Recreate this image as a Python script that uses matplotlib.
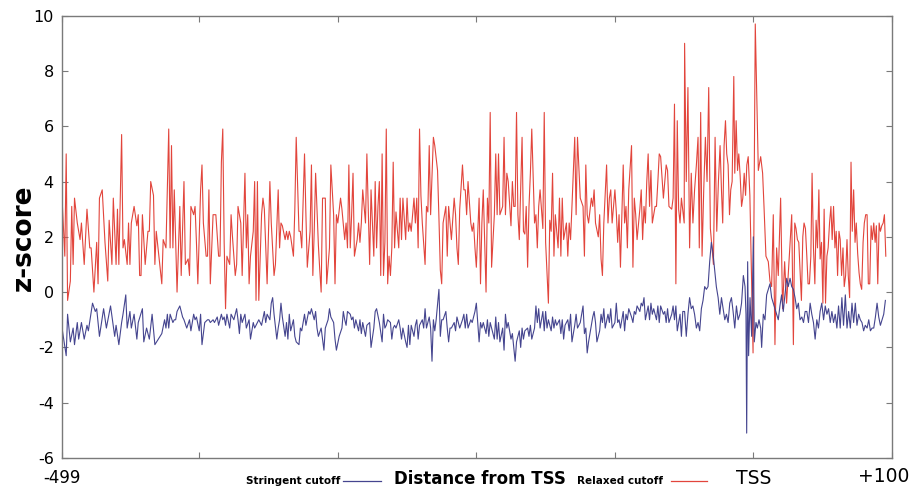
import matplotlib
matplotlib.use("Agg")
import matplotlib.pyplot as plt
from matplotlib.lines import Line2D

plt.rcParams["axes.unicode_minus"] = False

# Relaxed cutoff (red)
relaxed_x = [
    -499, -497, -496, -495, -493, -492, -491, -490, -488, -486, -485, -483, -481, -479, -478, -476, -474, -473, -472, -470,
    -468, -466, -465, -463, -462, -460, -459, -458, -456, -455, -454, -452, -451, -450, -449, -447, -445, -444, -443, -442,
    -441, -440, -439, -437, -436, -435, -433, -432, -431,
    -427, -426, -424, -422, -421, -420, -419, -418, -416, -414, -413, -411, -410, -408, -407, -406, -404, -403, -402, -401,
    -399, -398, -397, -395, -394, -393, -392, -391, -390, -388, -386, -385, -384, -383, -382, -381, -380, -378, -377, -376,
    -374, -373, -372, -370, -369, -367, -366, -365, -364, -363, -361, -360, -359, -358, -357, -355,
    -354, -353, -351, -349, -348, -346, -345, -343, -342, -341, -340, -338, -337, -336, -335, -334, -332, -331, -330, -328,
    -327, -326, -324, -323, -322, -320, -319, -318, -317, -316, -314, -313, -312, -311, -309, -308, -306, -305, -303, -302,
    -301, -300, -298, -297, -295, -294, -293, -292, -291, -290, -289, -288, -286, -285, -284, -283, -282, -280, -279,
    -278, -277, -276, -274, -273, -272, -271, -270, -269, -268, -267, -266, -265, -264, -263, -262, -261, -260, -259, -258,
    -256, -255, -254, -253, -251, -250, -249, -248, -247, -245, -244, -243, -242, -241, -240, -239, -237, -236, -235, -234,
    -233, -231, -230, -228, -227, -226, -225, -224, -222, -221, -220, -219, -218, -216, -215, -214, -213, -212, -210, -209,
    -208, -207, -206, -204, -203,
    -202, -201, -200, -198, -197, -196, -195, -193, -192, -191, -190, -189, -187, -186, -185, -184, -183, -181, -180, -179,
    -178, -177, -175, -174, -173, -172, -171, -170, -169, -167, -166, -165, -164, -163, -162, -161, -160, -158, -157, -156,
    -155, -154, -152, -151, -150, -148, -147, -146, -145, -144, -143, -141, -140, -139, -138, -137, -135, -134, -133, -132,
    -131, -129, -128, -127,
    -125, -123, -122, -121, -120, -119, -117, -116, -115, -114, -112, -111, -110, -109, -108, -106, -105, -104, -103, -102,
    -100, -99, -98, -97, -96, -94, -93, -92, -91, -90, -88, -87, -86, -85, -84, -82, -81, -80, -79, -78,
    -77, -76, -75, -74, -73, -71, -70, -69, -68, -67, -65, -64, -63, -62, -61, -59, -58, -57, -56, -55,
    -54, -53, -52, -50,
    -49.7, -48.5, -47.3, -46.1, -44.9, -43.7, -42.5, -41.2, -40.0, -39.1, -38.1, -37.1, -35.9, -34.7, -33.5, -32.3, -31.1, -29.9, -28.9, -27.7,
    -26.5, -25.3, -24.1, -23.1, -22.2, -21.2, -20.2, -19.3, -18.3, -17.3, -16.4, -15.4, -14.2, -13.5, -12.5, -11.5, -10.6, -9.6, -8.6, -7.7,
    -6.7, -5.7, -4.8, -3.8, -2.6, -1.5, -0.3, 1.3, 3.5, 5.2, 6.6, 7.6, 9.0, 10.7, 11.9, 13.1, 14.3, 15.5, 16.7, 17.9,
    19.6, 21.0, 22.5, 23.9,
    26.4, 27.6, 28.8, 29.8, 30.7, 31.7, 32.7, 33.6, 34.6, 35.6, 36.5, 37.5, 38.5, 39.4, 40.4, 41.4, 42.3, 43.3, 44.3, 45.2,
    46.2, 47.2, 48.1, 49.1, 50.1, 51.0, 52.0, 53.0, 53.9, 54.9, 55.9, 56.8, 57.8, 58.8, 59.7, 60.7, 61.7, 62.6, 63.6, 64.6,
    65.5, 66.5, 67.5, 68.4, 69.4, 70.4, 71.3, 72.3, 73.3, 74.2, 75.2, 76.2, 77.1, 78.1, 79.1, 80.0, 81.0, 82.0, 82.9, 83.9,
    84.9, 85.8, 86.8, 87.8, 88.7, 89.7, 90.7, 91.6, 92.6, 93.6, 94.5, 95.5,
]
relaxed_z = [
    3.4, 1.3, 5.0, -0.3, 0.4, 3.1, 1.0, 3.4, 2.5, 1.9, 2.5, 1.0, 3.0, 1.6, 1.6, 0.0, 1.8, 0.3, 3.4, 3.7,
    1.8, 0.4, 2.6, 1.0, 3.4, 1.0, 3.0, 1.0, 5.7, 1.6, 1.9, 1.0, 2.5, 1.0, 2.5, 3.1, 2.4, 2.8, 0.6, 0.6,
    2.8, 1.9, 1.0, 2.2, 2.2, 4.0, 3.5, 1.0, 2.2,
    0.3, 1.9, 1.6, 5.9, 1.6, 5.3, 1.6, 3.7, 0.0, 3.1, 0.6, 4.0, 1.0, 1.2, 0.6, 3.1, 2.8, 3.1, 1.8, 0.3,
    3.7, 4.6, 2.5, 1.3, 1.3, 3.7, 0.3, 1.6, 2.8, 2.8, 1.3, 1.3, 4.7, 5.9, 1.8, -0.6, 1.3, 1.0, 2.8, 2.0,
    0.6, 1.0, 3.1, 2.5, 0.6, 4.3, 1.6, 2.8, 0.3, 1.3, 2.2, 4.0, -0.3, 4.0, -0.3, 2.8,
    3.4, 3.0, 0.3, 4.0, 2.5, 0.6, 1.0, 3.7, 1.6, 2.5, 2.4, 1.9, 2.2, 1.9, 2.2, 2.0, 1.3, 3.0, 5.6, 2.2,
    2.2, 1.6, 5.0, 2.8, 0.9, 2.2, 4.6, 0.6, 2.2, 4.3, 1.7, 0.8, 0.0, 3.4, 3.4, 0.3, 1.6, 4.6, 2.8, 0.3,
    2.8, 2.5, 3.4, 3.0, 1.9, 2.5, 1.6, 4.6, 1.6, 2.8, 4.3, 1.3, 1.9, 2.5, 1.8, 2.5, 3.7, 2.5, 5.0,
    3.0, 1.0, 3.7, 1.3, 4.0, 1.6, 3.1, 4.0, 0.6, 5.0, 0.6, 1.8, 5.9, 0.3, 1.3, 0.6, 1.6, 4.7, 1.6, 2.9,
    1.6, 3.4, 1.9, 3.4, 1.9, 3.4, 2.2, 2.5, 2.2, 3.4, 2.5, 3.4, 1.6, 5.9, 3.5, 2.5, 1.0, 3.1, 2.9, 5.3,
    2.8, 5.6, 5.3, 4.4, 2.7, 0.8, 0.3, 2.5, 3.1, 1.3, 3.1, 2.5, 1.9, 3.4, 2.8, 1.6, 1.0, 3.0, 4.6, 3.7,
    3.7, 2.8, 4.0, 2.5, 2.2,
    2.5, 1.6, 0.9, 3.4, 0.3, 2.5, 3.7, 0.0, 3.4, 2.5, 6.5, 0.9, 2.8, 5.0, 2.8, 5.0, 2.8, 3.1, 5.6, 2.8,
    4.3, 4.0, 2.4, 4.0, 3.1, 3.1, 6.5, 2.8, 1.9, 5.6, 2.2, 2.1, 3.1, 0.9, 3.1, 4.3, 5.9, 2.5, 2.8, 1.6,
    3.1, 3.7, 2.3, 6.5, 1.8, -0.4, 2.6, 2.2, 4.3, 1.3, 2.8, 1.6, 3.4, 1.3, 3.4, 1.9, 2.5, 1.3, 2.5, 1.9,
    3.1, 5.6, 2.8, 5.6,
    3.4, 3.1, 1.3, 4.6, 2.8, 2.5, 3.4, 3.1, 3.7, 2.5, 2.0, 2.8, 1.2, 0.6, 2.5, 4.6, 2.5, 3.4, 3.7, 2.5,
    3.7, 2.9, 1.8, 2.8, 0.9, 4.6, 2.5, 3.1, 1.6, 3.7, 5.3, 0.9, 3.4, 2.8, 1.9, 3.0, 3.7, 1.9, 3.1, 2.5,
    4.0, 5.0, 3.1, 4.4, 2.5, 3.1, 3.1, 4.0, 5.0, 4.9, 3.4, 4.0, 4.6, 4.4, 3.1, 3.0, 3.4, 6.8, 0.3, 6.2,
    3.0, 2.5, 3.4, 2.5,
    9.0, 4.0, 7.4, 1.6, 4.3, 2.5, 3.7, 4.6, 5.6, 1.6, 6.5, 1.3, 3.7, 5.6, 4.0, 7.4, 2.3, 1.6, 1.0, 5.6,
    2.2, 4.0, 5.3, 3.7, 2.5, 5.3, 6.2, 5.0, 4.6, 2.8, 3.7, 4.0, 7.8, 4.3, 6.2, 4.4, 5.0, 4.2, 3.1, 3.4,
    4.3, 3.5, 4.6, 4.9, 3.5, 0.8, -2.2, 9.7, 4.4, 4.9, 4.3, 3.1, 1.3, 1.1, 0.4, 0.2, 2.8, -1.9, 1.6, 0.6,
    3.4, -0.6, 1.1, -0.4,
    1.8, 2.8, -1.9, 2.5, 2.3, 1.9, 1.8, 0.8, -0.3, 2.0, 2.5, 2.3, 1.3, 0.3, 0.3, 1.3, 4.3, 1.6, 0.3, 2.6,
    1.6, 3.7, 1.2, 1.8, -0.4, 3.0, -0.4, 1.3, 1.6, 2.5, 3.1, 1.9, 3.1, 1.6, 2.2, 0.6, 2.2, 1.9, 0.6, 1.6,
    0.2, 0.6, 1.9, 0.6, -0.2, 4.7, 2.2, 3.7, 1.8, 2.5, 1.4, 0.7, 0.3, 0.1, 1.8, 2.5, 2.8, 2.8, 0.3, 0.3,
    2.4, 1.9, 2.5, 1.8, 2.4, 0.3, 2.5, 2.2, 2.4, 2.5, 2.8, 1.3,
]

# Stringent cutoff (blue)
stringent_x = [
    -499, -496, -495, -493, -491, -490, -488, -487, -485, -483, -481, -480, -477, -475, -474, -472, -469, -467, -464, -461,
    -460, -458, -456, -455, -453, -452, -450, -449, -447, -445, -444, -441, -440, -438, -436, -434, -432,
    -427, -425, -424, -423, -422, -421, -419, -418, -417, -416, -414, -412, -411, -409, -407, -406, -404, -403, -402, -400,
    -399, -398, -396, -394, -393, -392, -390, -389, -387, -386, -384, -383, -382, -381, -380, -378, -377, -375, -373, -372,
    -371, -370, -369, -367, -366, -364, -363, -361, -360, -358, -357, -355,
    -353, -352, -351, -349, -348, -347, -346, -344, -343, -342, -341, -340, -338, -337, -336, -335, -334, -332, -331, -330,
    -328, -327, -326, -324, -323, -321, -320, -319, -317, -316, -315, -314, -312, -310, -309, -307, -306, -305, -303, -302,
    -301, -299, -297, -296, -295, -294, -293, -291, -290, -289, -288, -287, -285, -284, -283, -282, -280, -279,
    -277, -276, -274, -273, -272, -270, -268, -267, -266, -265, -264, -262, -261, -260, -259, -258, -256, -255, -254, -253,
    -251, -250, -249, -248, -247, -245, -244, -243, -242, -241, -239, -238, -237, -236, -234, -233, -232, -231, -230, -229,
    -227, -226, -225, -224, -222, -221, -220, -219, -218, -216, -215, -214, -213, -212, -210, -209, -208, -207, -206, -204,
    -203,
    -201, -200, -198, -197, -196, -195, -193, -192, -191, -190, -189, -187, -186, -185, -184, -183, -181, -180, -179, -178,
    -177, -175, -174, -173, -172, -171, -169, -168, -167, -166, -165, -163, -162, -161, -160, -158, -157, -156, -155, -154,
    -152, -151, -150, -149, -148, -146, -145, -144, -143, -142, -140, -139, -138, -137, -136, -134, -133, -132, -131, -129,
    -128, -127,
    -125, -123, -122, -121, -120, -119, -117, -116, -115, -114, -113, -111, -110, -109, -108, -107, -105, -104, -103, -102,
    -100, -99, -98, -97, -96, -94, -93, -92, -91, -90, -88, -87, -86, -85, -84, -82, -81, -80, -79, -78,
    -76, -75, -74, -73, -72, -70, -69, -68, -67, -65, -64, -63, -62, -61, -59, -58, -57, -56, -55, -53,
    -52, -51,
    -49.7, -48.5, -47.3, -46.1, -44.9, -43.7, -42.5, -41.2, -40.0, -38.8, -37.6, -36.4, -35.2, -34.0, -32.8, -31.6, -30.4, -29.2, -28.0, -26.8,
    -25.5, -24.3, -23.1, -21.9, -20.7, -19.5, -18.3, -17.1, -15.9, -14.7, -13.5, -12.3, -11.1, -9.8, -8.6,
    -7.3, -6.1, -5.4, -4.9, -4.2, -3.5, -2.5, -1.3, -0.1, 0.6, 1.8, 2.8, 4.0, 5.2, 5.9, 7.1, 8.3, 9.5, 10.7, 11.9,
    13.1, 14.3, 15.5, 16.7, 17.9, 19.1, 20.3, 21.5, 22.7, 24.0, 25.1,
    26.4, 27.6, 28.8, 30.0, 31.2, 32.4, 33.6, 34.9, 36.1, 37.3, 38.5, 39.7, 40.9, 42.1, 43.3, 44.5, 45.7, 46.9, 48.1, 49.3,
    50.6, 51.8, 53.0, 54.2, 55.4, 56.6, 57.8, 59.0, 60.2, 61.4, 62.6, 63.8, 65.0, 66.3, 67.5, 68.7, 69.9, 71.1, 72.3, 73.5,
    74.7, 75.9, 77.1, 78.3, 79.5, 80.7, 82.0, 83.2, 84.4, 85.6, 86.8, 88.0, 89.2, 90.4, 91.6, 92.8, 94.0, 95.2,
]
stringent_z = [
    -1.3, -2.3, -0.8, -1.8, -1.3, -1.9, -1.1, -1.7, -1.1, -1.7, -1.2, -1.4, -0.4, -0.7, -0.6, -1.6, -0.6, -1.3, -0.5, -1.6,
    -1.2, -1.9, -1.1, -0.8, -0.1, -1.3, -0.7, -1.3, -0.8, -1.7, -1.1, -0.6, -1.8, -1.3, -1.7, -0.8, -1.9,
    -1.5, -1.0, -1.3, -0.8, -1.3, -0.8, -1.1, -1.0, -1.0, -0.7, -0.5, -0.9, -1.0, -1.3, -1.0, -1.4, -0.8, -1.0, -0.9, -1.4,
    -0.8, -1.9, -1.1, -1.0, -1.0, -1.1, -1.0, -1.1, -0.9, -1.2, -0.8, -1.0, -0.9, -1.2, -0.8, -1.3, -0.8, -1.0, -0.6, -1.0,
    -1.5, -0.8, -1.1, -0.8, -1.3, -1.0, -1.7, -1.1, -1.3, -1.1, -1.0, -1.2,
    -0.7, -1.1, -0.8, -1.0, -0.4, -0.2, -0.8, -1.7, -1.3, -1.0, -0.4, -0.9, -1.6, -1.1, -1.7, -0.8, -1.4, -1.0, -1.6, -1.8,
    -1.9, -1.3, -1.4, -0.8, -1.2, -0.7, -0.8, -0.6, -1.0, -0.7, -1.3, -1.6, -1.3, -2.1, -1.3, -1.0, -0.6, -0.9, -1.1, -1.7,
    -2.1, -1.6, -1.3, -0.7, -1.0, -1.2, -0.7, -0.8, -1.0, -0.9, -1.3, -1.0, -1.4, -1.0, -1.5, -1.1, -1.6, -1.2,
    -1.1, -2.0, -1.3, -0.7, -0.6, -1.1, -1.8, -0.8, -1.3, -1.2, -1.0, -1.1, -1.7, -1.3, -1.2, -1.3, -1.0, -1.3, -1.7, -1.3,
    -1.8, -2.0, -1.2, -1.9, -1.2, -1.6, -1.2, -1.0, -1.7, -1.2, -1.0, -1.3, -0.6, -1.3, -0.9, -1.3, -2.5, -1.0, -1.4, -1.0,
    0.1, -1.6, -1.0, -1.0, -0.7, -1.3, -1.8, -1.3, -1.3, -1.1, -1.4, -0.9, -1.1, -1.3, -1.0, -0.8, -1.3, -0.8, -1.3, -1.0,
    -1.1,
    -0.7, -0.4, -1.8, -1.1, -1.3, -1.1, -1.5, -1.0, -1.6, -1.1, -1.3, -1.7, -0.9, -1.7, -1.1, -1.8, -1.3, -2.1, -0.8, -1.3,
    -1.1, -1.7, -1.5, -2.0, -2.5, -1.8, -1.4, -2.0, -1.3, -1.7, -1.4, -1.3, -1.6, -1.2, -1.7, -1.3, -0.5, -1.1, -0.6, -1.3,
    -0.7, -1.4, -0.7, -1.3, -1.0, -1.4, -0.9, -1.3, -1.0, -1.2, -1.0, -1.5, -1.0, -1.7, -1.2, -1.0, -1.4, -0.8, -1.8, -1.2,
    -0.8, -1.3,
    -1.1, -0.5, -1.5, -1.3, -2.2, -1.8, -1.2, -0.9, -0.7, -1.1, -1.8, -1.4, -0.8, -1.1, -0.6, -1.3, -0.8, -1.1, -0.6, -1.3,
    -1.1, -0.4, -1.1, -1.0, -1.3, -0.7, -1.4, -0.8, -1.0, -0.6, -0.9, -1.1, -0.7, -0.8, -0.5, -0.7, -0.4, -0.5, -0.2, -1.0,
    -0.5, -1.0, -0.4, -0.8, -0.6, -1.0, -0.5, -1.1, -0.5, -0.8, -0.7, -1.1, -0.6, -1.1, -0.8, -0.5, -1.0, -0.5, -1.4, -0.8,
    -1.6, -0.7,
    -0.7, -1.6, -0.8, -0.2, -0.6, -0.5, -0.8, -1.3, -1.1, -1.4, -0.6, -0.3, 0.2, 0.1, 0.2, 1.1, 1.8, 1.4, 0.8, 0.2,
    -0.2, -0.8, -0.2, -0.6, -1.0, -0.8, -1.1, -0.4, -0.2, -0.7, -1.3, -0.5, -1.0, -0.8, -0.4,
    0.6, 0.2, -0.8, -5.1, 1.1, -2.3, -0.2, -1.6, 2.0, -1.8, -1.1, -1.3, -1.0, -1.3, -2.0, -0.8, -1.0, -0.1, 0.1, 0.3,
    -0.2, -0.4, -0.6, -0.8, -1.0, -0.5, -0.1, -0.7, -0.1, 0.5, 0.2,
    0.5, 0.2, 0.1, -0.2, -0.6, -0.4, -1.0, -0.9, -1.1, -0.7, -0.7, -1.1, -0.4, -0.8, -1.1, -1.7, -1.0, -1.3, -0.7, -0.4,
    -1.0, -0.5, -0.8, -0.6, -1.1, -0.7, -1.1, -0.8, -1.3, -0.5, -1.3, -0.2, -1.2, -0.1, -1.3, -0.7, -1.3, -0.4, -1.1, -0.4,
    -1.2, -0.8, -1.0, -1.1, -1.4, -1.2, -1.3, -1.0, -1.4, -1.3, -1.3, -0.9, -0.4, -0.9, -1.2, -1.0, -0.8, -0.3,
]

x_ticks = [-499, -400, -300, -200, -100, 0, 100]
x_labels = ["-499", "", "", "", "", "TSS", ""]
y_ticks = [-6, -4, -2, 0, 2, 4, 6, 8, 10]

red = "#e2453c"
blue = "#45458f"
grey = "#7a7a7a"

fig = plt.figure(figsize=(9.15, 4.88), dpi=100)
ax = fig.add_axes([0.0678, 0.0615, 0.9071, 0.9064])

ax.plot(relaxed_x, relaxed_z, color=red, lw=0.8)
ax.plot(stringent_x, stringent_z, color=blue, lw=0.8)

ax.set_xlim(-499, 100)
ax.set_ylim(-6, 10)
ax.set_xticks(x_ticks)
ax.set_xticklabels(x_labels)
ax.set_yticks(y_ticks)

for s in ax.spines.values():
    s.set_color(grey)
    s.set_linewidth(1.0)
ax.tick_params(direction="in", length=4, color=grey, top=True, right=True)
ax.tick_params(axis="y", labelsize=11.5, pad=6)
ax.tick_params(axis="x", labelsize=12, pad=8)
ax.get_xticklabels()[5].set_fontsize(13.5)

# "+100" sits a little inside the right edge in the original
fig.text(884 / 915, 1 - 477 / 488, "+100", ha="center", va="center", fontsize=13.5)

fig.text(0.026, 0.512, "z-score", rotation=90, ha="center", va="center",
         fontsize=19, fontweight="bold")

# inline legend and axis title along the bottom row
yb = 1 - 481 / 488
fig.text(340 / 915, yb, "Stringent cutoff", ha="right", va="center", fontsize=7.5, fontweight="bold")
fig.add_artist(Line2D([343 / 915, 381 / 915], [yb, yb], color=blue, lw=0.9))
fig.text(394 / 915, 1 - 478.5 / 488, "Distance from TSS", ha="left", va="center", fontsize=12, fontweight="bold")
fig.text(663 / 915, yb, "Relaxed cutoff", ha="right", va="center", fontsize=7.5, fontweight="bold")
fig.add_artist(Line2D([671 / 915, 707 / 915], [yb, yb], color=red, lw=0.9))

fig.savefig("out.png", dpi=100)
